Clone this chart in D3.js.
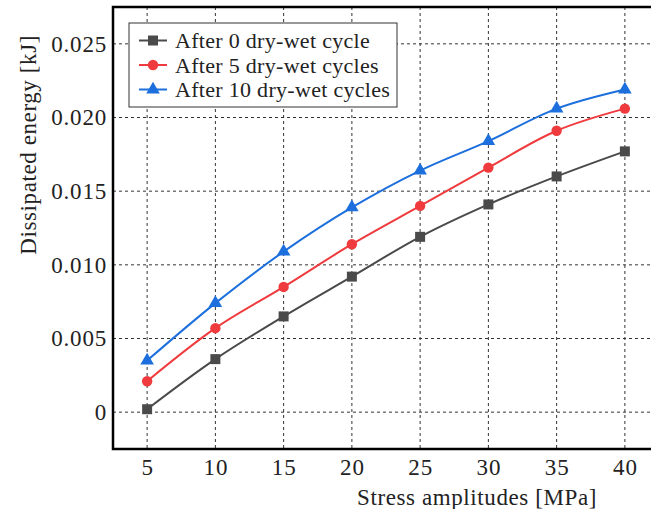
<!DOCTYPE html>
<html>
<head>
<meta charset="utf-8">
<script src="https://cdn.jsdelivr.net/npm/d3@7"></script>
<style>
  body { margin: 0; background: #fff; }
  text { font-family: "Liberation Serif", "Times New Roman", serif; fill: #222; }
</style>
</head>
<body>
<svg width="651" height="509"></svg>
<script>
// data
const stress = [5, 10, 15, 20, 25, 30, 35, 40]
const cycle0 = [0.0002, 0.0036, 0.0065, 0.0092, 0.0119, 0.0141, 0.0160, 0.0177]
const cycle5 = [0.0021, 0.0057, 0.0085, 0.0114, 0.0140, 0.0166, 0.0191, 0.0206]
const cycle10 = [0.0035, 0.0074, 0.0109, 0.0139, 0.0164, 0.0184, 0.0206, 0.0219]
const seriesNames = ['After 0 dry-wet cycle', 'After 5 dry-wet cycles', 'After 10 dry-wet cycles']
const yTicks = [0, 0.005, 0.010, 0.015, 0.020, 0.025]
const yTickLabels = ['0', '0.005', '0.010', '0.015', '0.020', '0.025']

const svg = d3.select('svg')
const pLeft = 113, pTop = 7, pBottom = 449, pRight = 659

const x = d3.scaleLinear().domain([2.5, 42.5]).range([pLeft, pRight])
const y = d3.scaleLinear().domain([-0.0025, 0.0275]).range([pBottom, pTop])

const series = [
  { name: seriesNames[0], values: cycle0, color: '#4a4a4a', symbol: d3.symbolSquare, size: 100 },
  { name: seriesNames[1], values: cycle5, color: '#ef3b3d', symbol: d3.symbolCircle, size: 85 },
  { name: seriesNames[2], values: cycle10, color: '#1c6fdc', symbol: d3.symbolTriangle, size: 80 }
]

// grid
const grid = svg.append('g')
  .attr('stroke', '#333')
  .attr('stroke-width', 1)
  .attr('stroke-dasharray', '3,3')
grid.selectAll('.gx').data(stress).enter().append('line')
  .attr('x1', d => x(d)).attr('x2', d => x(d))
  .attr('y1', pTop).attr('y2', pBottom)
grid.selectAll('.gy').data(yTicks).enter().append('line')
  .attr('x1', pLeft).attr('x2', pRight)
  .attr('y1', d => y(d)).attr('y2', d => y(d))

// tick labels
const xAxis = d3.axisBottom(x).tickValues(stress).tickSize(0).tickPadding(10)
svg.append('g').attr('transform', `translate(0,${pBottom})`).call(xAxis)
  .call(g => g.select('.domain').remove())
  .selectAll('text').style('font-size', '23px').style('letter-spacing', '0.8px').attr('fill', '#222')

const yAxis = d3.axisLeft(y).tickValues(yTicks).tickSize(0).tickPadding(6)
  .tickFormat((d, i) => yTickLabels[i])
svg.append('g').attr('transform', `translate(${pLeft},0)`).call(yAxis)
  .call(g => g.select('.domain').remove())
  .selectAll('text').style('font-size', '23px').style('letter-spacing', '0.8px').attr('fill', '#222')

// lines
const line = d3.line()
  .x((d, i) => x(stress[i]))
  .y(d => y(d))
  .curve(d3.curveCatmullRom.alpha(0.5))

series.forEach(s => {
  svg.append('path')
    .datum(s.values)
    .attr('d', line)
    .attr('fill', 'none')
    .attr('stroke', s.color)
    .attr('stroke-width', 2)
  svg.selectAll(null).data(s.values).enter().append('path')
    .attr('d', d3.symbol().type(s.symbol).size(s.size))
    .attr('transform', (d, i) => `translate(${x(stress[i])},${y(d)})`)
    .attr('fill', s.color)
})

// frame
svg.append('path')
  .attr('d', `M${pRight},${pTop}H${pLeft}V${pBottom}H${pRight}`)
  .attr('fill', 'none')
  .attr('stroke', '#000')
  .attr('stroke-width', 2.5)

// legend
const legend = svg.append('g').attr('transform', 'translate(129,23)')
legend.append('rect')
  .attr('width', 268).attr('height', 84)
  .attr('fill', '#fff').attr('stroke', '#333').attr('stroke-width', 1)
series.forEach((s, i) => {
  const cy = 17.5 + i * 24.5
  legend.append('line')
    .attr('x1', 10).attr('x2', 38).attr('y1', cy).attr('y2', cy)
    .attr('stroke', s.color).attr('stroke-width', 2)
  legend.append('path')
    .attr('d', d3.symbol().type(s.symbol).size(s.size))
    .attr('transform', `translate(24,${cy})`)
    .attr('fill', s.color)
  legend.append('text')
    .attr('x', 46).attr('y', cy).attr('dy', '0.35em')
    .style('font-size', '22px')
    .style('letter-spacing', '0.3px')
    .text(s.name)
})

// axis titles
svg.append('text')
  .attr('x', 597).attr('y', 497).attr('dy', '0.35em')
  .attr('text-anchor', 'end')
  .style('font-size', '23px')
  .style('letter-spacing', '0.6px')
  .text('Stress amplitudes [MPa]')

svg.append('text')
  .attr('transform', 'translate(28,35) rotate(-90)')
  .attr('dy', '0.35em')
  .attr('text-anchor', 'end')
  .style('font-size', '23px')
  .style('letter-spacing', '0.6px')
  .text('Dissipated energy [kJ]')
</script>
</body>
</html>
